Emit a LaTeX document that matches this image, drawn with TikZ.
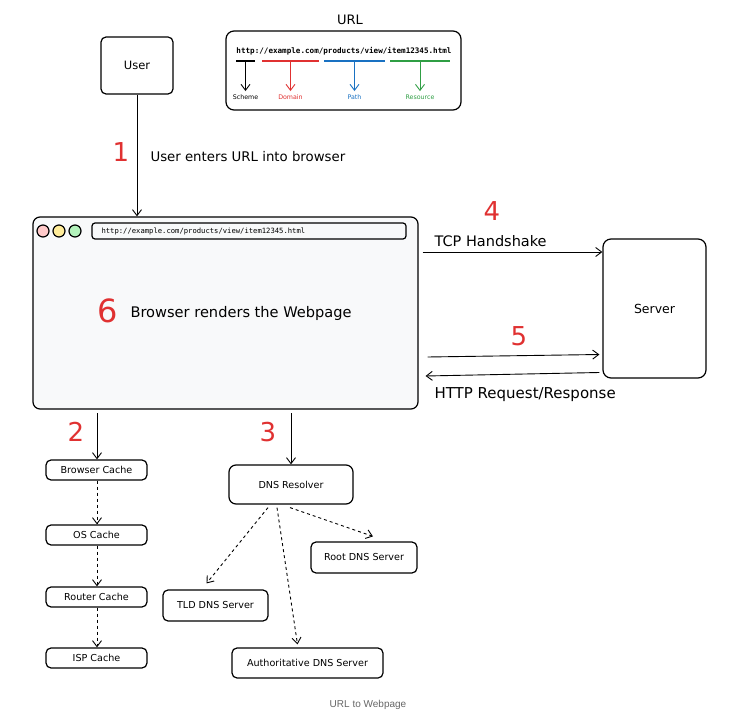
\documentclass[tikz,border=0pt]{standalone}
\usepackage{fontspec}
\setmainfont{DejaVu Sans}
\setmonofont{DejaVu Sans Mono}
\newfontfamily\capfont{Liberation Sans}
\usetikzlibrary{arrows.meta,calc}

\definecolor{numred}{HTML}{E03131}
\definecolor{pathblue}{HTML}{1971C2}
\definecolor{resgreen}{HTML}{2F9E44}
\definecolor{winfill}{HTML}{F8F9FA}
\definecolor{dotpink}{HTML}{FFC9C9}
\definecolor{dotyellow}{HTML}{FFEC99}
\definecolor{dotgreen}{HTML}{B2F2BB}

\begin{document}
\begin{tikzpicture}[x=1pt, y=-1pt,
  box/.style={draw, line width=1.2pt, rounded corners=5pt, inner sep=0pt, font=\fontsize{9.6}{10}\selectfont},
  num/.style={text=numred, font=\fontsize{26}{28}\selectfont},
  arr/.style={line width=0.9pt, -{Straight Barb[length=6pt,width=9pt]}},
  dasharr/.style={arr, dashed}]
\useasboundingbox (0,0) rectangle (729,722);

%user and url legend:
\node[box, minimum width=72, minimum height=57, font=\fontsize{11.5}{12}\selectfont] (user) at (137,65.5) {User};
\node[font=\fontsize{13}{14}\selectfont] (urltitle) at (350,20) {URL};
\node[box, rounded corners=8pt, minimum width=235, minimum height=79] (urlbox) at (343.5,70.5) {};
\node[font=\ttfamily\bfseries\fontsize{7.6}{8}\selectfont] (urltext) at (344,51) {http://example.com/products/view/item12345.html};
\foreach \xa/\xb/\col/\lab in {236/255/black/Scheme, 262/319/numred/Domain, 324/385/pathblue/Path, 390/450/resgreen/Resource} {
	\draw[\col, line width=1.2pt] (\xa,61) -- (\xb,61);
	\node[text=\col, font=\fontsize{6.3}{7}\selectfont] (\lab) at ({(\xa+\xb)/2},97) {\lab};
	\coordinate (\lab top) at ({(\xa+\xb)/2},61);
	\draw[arr, \col] (\lab top) -- (\lab.north);
}

%browser window:
\node[box, fill=winfill, rounded corners=7pt, minimum width=385, minimum height=192] (browser) at (225.5,313) {};
\node[box, rounded corners=3pt, minimum width=314, minimum height=16] (addr) at (249,231) {};
\node[anchor=west, font=\ttfamily\fontsize{7.2}{8}\selectfont] (addrtext) at (98,231) {http://example.com/products/view/item12345.html};
\foreach \xc/\col [count=\i] in {43/dotpink, 59/dotyellow, 75/dotgreen} {
	\node[circle, draw, line width=1.2pt, fill=\col, minimum size=12, inner sep=0pt] (dot\i) at (\xc,231) {};
}
\node[num, font=\fontsize{32}{34}\selectfont] (six) at (108,311) {6};
\node[anchor=west, font=\fontsize{14.6}{16}\selectfont] (render) at (127,313) {Browser renders the Webpage};

%step 1:
\draw[arr] (user.south) -- (user.south |- browser.north);
\node[num] (one) at (121,152) {1};
\node[anchor=west, font=\fontsize{13.3}{14}\selectfont] (enter) at (147,157) {User enters URL into browser};

%server side:
\node[box, rounded corners=8pt, minimum width=103, minimum height=139, font=\fontsize{12.5}{13}\selectfont] (server) at (654.5,308.5) {Server};
\coordinate (tcp) at ($(browser.east)+(4,-61)$);
\draw[arr] (tcp) -- (server.west |- tcp);
\node[num] (four) at (492,211) {4};
\node[anchor=west, font=\fontsize{14.5}{15}\selectfont] (tcplabel) at (431,241) {TCP Handshake};
\coordinate (req) at ($(browser.east)+(9,44)$);
\draw[arr] (req) -- ($(server.west)+(-3,46)$);
\node[num] (five) at (519,336) {5};
\draw[arr] ($(server.west)+(-3,64)$) -- ($(browser.east)+(7,63)$);
\node[anchor=west, font=\fontsize{15}{16}\selectfont] (httplabel) at (431,395) {HTTP Request/Response};

%caches:
\foreach \y/\lab [count=\i] in {470/Browser Cache, 535/OS Cache, 597/Router Cache, 658/ISP Cache} {
	\node[box, minimum width=101, minimum height=20] (cache\i) at (96.5,\y) {\lab};
}
\coordinate (two) at (97,413);
\draw[arr] (two) -- (cache1.north -| two);
\node[num] (numtwo) at (76,432) {2};
\foreach \i [evaluate=\i as \j using int(\i+1)] in {1,2,3} {
	\draw[dasharr] (cache\i.south -| two) -- (cache\j.north -| two);
}

%dns:
\node[box, rounded corners=7pt, minimum width=124, minimum height=39] (resolver) at (291,484.5) {DNS Resolver};
\node[box, minimum width=106, minimum height=31] (root) at (364,557.5) {Root DNS Server};
\node[box, minimum width=105, minimum height=31] (tld) at (215.5,605.5) {TLD DNS Server};
\node[box, minimum width=151, minimum height=30] (auth) at (307.5,663) {Authoritative DNS Server};
\coordinate (three) at (291,413);
\draw[arr] (three) -- (resolver.north);
\node[num] (numthree) at (268,432) {3};
\draw[dasharr] ($(resolver.south)+(-23,3)$) -- ($(tld.north)+(-9,-6)$);
\draw[dasharr] ($(resolver.south)+(-14,3)$) -- ($(auth.north)+(-10,-3)$);
\draw[dasharr] ($(resolver.south)+(-1,3)$) -- ($(root.north)+(9,-5)$);

%caption:
\node[text=black!60, font=\capfont\fontsize{10}{12}\selectfont] (caption) at (368,705) {URL to Webpage};
\end{tikzpicture}
\end{document}
